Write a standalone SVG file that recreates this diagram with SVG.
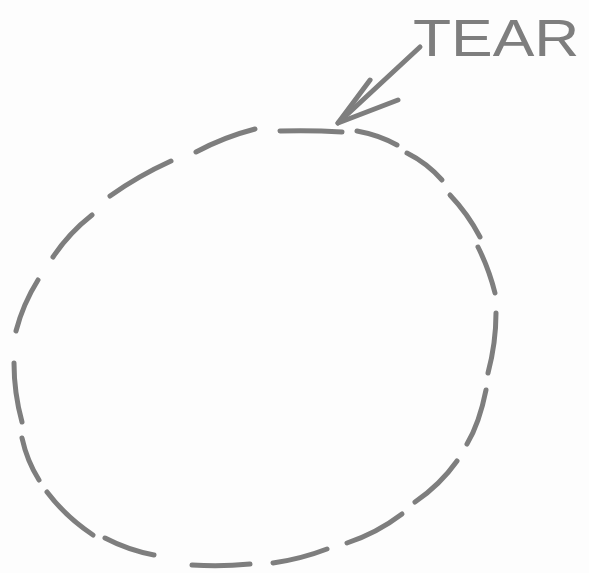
<svg xmlns="http://www.w3.org/2000/svg" width="589" height="573" viewBox="0 0 589 573">
  <style>
    .dash { fill: none; stroke: #7e7e7e; stroke-width: 5; stroke-linecap: round; stroke-linejoin: round; }
    .pen { fill: none; stroke: #7e7e7e; stroke-width: 5; stroke-linecap: round; stroke-linejoin: round; }
    .label { font-family: "Liberation Sans", Arial, sans-serif; font-size: 52px; fill: #7e7e7e; }
  </style>
  <defs>
    <marker id="head" markerUnits="userSpaceOnUse" orient="auto" refX="0" refY="0" markerWidth="80" markerHeight="80" overflow="visible">
      <path class="pen" d="M-52.7,9.7 L0,0 L-59.6,-23.9"/>
    </marker>
  </defs>
  <rect x="0" y="0" width="589" height="573" fill="#fdfdfd"/>

  <g id="tear-outline">
    <path class="dash" d="M280,131 Q311,130 342,132"/>
    <path class="dash" d="M357,131 Q379,135 397,145"/>
    <path class="dash" d="M407,153 Q427,163 442,180"/>
    <path class="dash" d="M450,195 Q468,214 480,237"/>
    <path class="dash" d="M478,247 Q489,269 495,293"/>
    <path class="dash" d="M496,313 Q496,343 488,373"/>
    <path class="dash" d="M486,390 Q479.5,423 467,444"/>
    <path class="dash" d="M457,461 Q440,485 415,502"/>
    <path class="dash" d="M402,514 Q377,533 347,543"/>
    <path class="dash" d="M327,549 Q301,559 273,563"/>
    <path class="dash" d="M250,564 Q221,567 192,565"/>
    <path class="dash" d="M154,555 Q128,550 105,538"/>
    <path class="dash" d="M93,535 Q66,517 47,492"/>
    <path class="dash" d="M39,480 Q27,461 22,438"/>
    <path class="dash" d="M22,422 Q14,393 14,363"/>
    <path class="dash" d="M16,331 Q23,304 38,280"/>
    <path class="dash" d="M53,257 Q69,233 92,215"/>
    <path class="dash" d="M110,196 Q138,176 171,161"/>
    <path class="dash" d="M196,152 Q224,137 255,129"/>
  </g>

  <g id="connectors">
    <path class="pen" d="M420,47 L338,123" marker-end="url(#head)"/>
  </g>

  <g id="label-tear">
    <text class="label" transform="translate(413,56) scale(1.2,1)" x="0" y="0">TEAR</text>
  </g>
</svg>
